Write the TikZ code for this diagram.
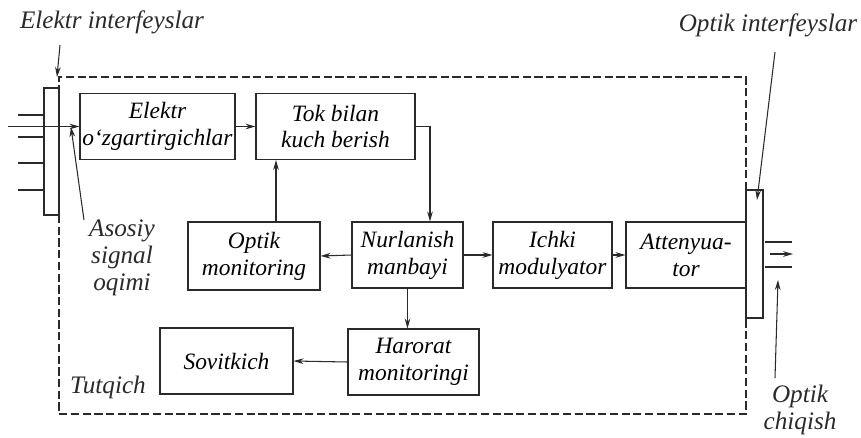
\documentclass[tikz,border=0pt]{standalone}
\usepackage{fontspec}
\setmainfont{Liberation Serif}
\usetikzlibrary{arrows.meta,positioning,calc}
\definecolor{ink}{HTML}{2A2A2A}

\begin{document}
\begin{tikzpicture}[x=0.03cm,y=-0.03cm,
  box/.style={draw=ink,line width=0.9pt,align=center,inner sep=1pt,font=\fontsize{20}{23}\selectfont\itshape,minimum height=1.98cm},
  lbl/.style={align=center,text=ink,inner sep=0pt,font=\fontsize{21.5}{23}\selectfont\itshape},
  arr/.style={-{Stealth[length=3mm,width=1.7mm]},line width=0.9pt,draw=ink},
  bar/.style={draw=ink,line width=0.9pt},
  casing/.style={draw=ink,line width=1pt,dash pattern=on 7pt off 3pt}
]
\useasboundingbox (0,0) rectangle (861,437);
% blocks
\node[box,minimum width=4.65cm] (elek) at (157.5,126.5) {Elektr\\o`zgartirgichlar};
\node[box,minimum width=4.77cm] (tok) at (335.5,126.5) {Tok bilan\\kuch berish};
\node[box,minimum width=3.96cm,minimum height=2.04cm] (omon) at (254,256) {Optik\\monitoring};
\node[box,minimum width=3.33cm] (nur) at (407.5,255) {Nurlanish\\manbayi};
\node[box,minimum width=3.57cm] (ichki) at (552.5,255) {Ichki\\modulyator};
\node[box,minimum width=3.6cm] (att) at (686,255) {Attenyua-\\tor};
\node[box,minimum width=3.93cm] (har) at (413.5,362) {Harorat\\monitoringi};
\node[box,minimum width=3.99cm] (sov) at (226.5,361) {Sovitkich};
% interface bars and casing
\draw[bar] (44,88) rectangle (59,215);
\draw[bar] (746,190) rectangle (763,318);
\draw[casing] (59,215) -- (59,414) -- (746,414) -- (746,318);
\draw[casing] (746,190) -- (746,77) -- (59,77) -- (59,88);
% inputs
\foreach \yy in {115,137,163,190}
  \draw[bar] (18,\yy) -- (44,\yy);
\coordinate (inp) at (8,126.5);
\draw[arr] (inp) -- (elek.west);
% outputs
\draw[bar] (765,242) -- (792,242);
\draw[bar] (765,267) -- (792,267);
\coordinate (outa) at (770,254);
\coordinate (outb) at (793,254);
\draw[arr] (outa) -- (outb);
% signal paths
\draw[arr] (elek.east) -- (tok.west);
\draw[arr] (tok.east) -| ([xshift=0.675cm]nur.north);
\draw[arr] ([xshift=0.66cm]omon.north) -- ([xshift=0.66cm]omon.north |- tok.south);
\draw[arr] (nur.west) -- (omon.east);
\draw[arr] (nur.east) -- (ichki.west);
\draw[arr] (ichki.east) -- (att.west);
\draw[arr] (nur.south) -- (nur.south |- har.north);
\draw[arr] (har.west) -- (sov.east);
% labels
\node[lbl] (elint) at (112,22) {Elektr interfeyslar};
\node[lbl] (opint) at (768,25) {Optik interfeyslar};
\node[lbl] (asos) at (122,258) {Asosiy\\signal\\oqimi};
\node[lbl] (tutq) at (108,387) {Tutqich};
\node[lbl] (chiq) at (800,410) {Optik\\chiqish};
\coordinate (elp) at (60,45);
\coordinate (elq) at (57,77);
\draw[arr] (elp) -- (elq);
\coordinate (asp) at (84,220);
\coordinate (asq) at (71,127);
\draw[arr] (asp) -- (asq);
\coordinate (opp) at (775,52);
\coordinate (opq) at (757,200);
\draw[arr] (opp) -- (opq);
\coordinate (chp) at (775,378);
\coordinate (chq) at (778,280);
\draw[arr] (chp) -- (chq);
\end{tikzpicture}
\end{document}
